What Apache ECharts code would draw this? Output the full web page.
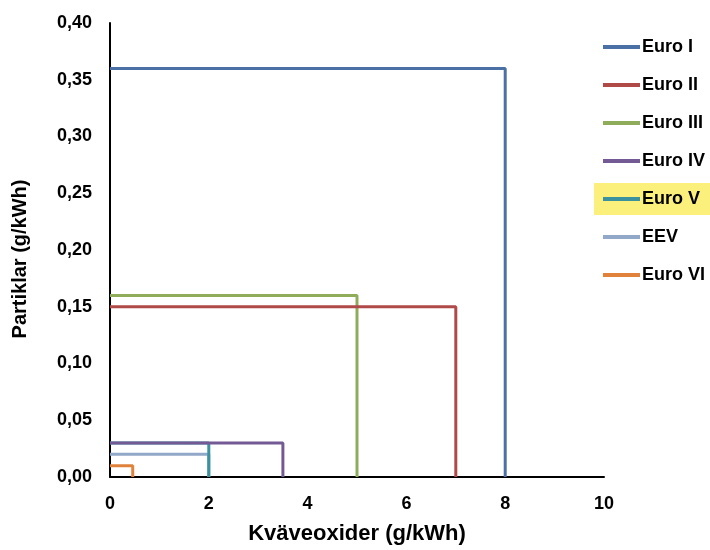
<!DOCTYPE html>
<html>
<head>
<meta charset="utf-8">
<script src="https://cdn.jsdelivr.net/npm/echarts@6/dist/echarts.min.js"></script>
<style>html,body{margin:0;padding:0;background:#fff;}#c{width:710px;height:550px;}</style>
</head>
<body>
<div id="c"></div>
<script>
const names = ['Euro I', 'Euro II', 'Euro III', 'Euro IV', 'Euro V', 'EEV', 'Euro VI'];
const nox = [8, 7, 5, 3.5, 2, 2, 0.46];
const pm = [0.36, 0.15, 0.16, 0.03, 0.03, 0.02, 0.01];
const colors = ['#4a70a6', '#b04a48', '#8fac5a', '#735a94', '#3a929e', '#92a8c9', '#e0823c'];
const xTicks = [0, 2, 4, 6, 8, 10];
const yTicks = [0, 0.05, 0.10, 0.15, 0.20, 0.25, 0.30, 0.35, 0.40];

const FONT = '"Liberation Sans", Arial, sans-serif';
const chart = echarts.init(document.getElementById('c'));
const series = names.map((n, i) => ({
  name: n,
  type: 'line',
  data: [[0, pm[i]], [nox[i], pm[i]], [nox[i], 0]],
  showSymbol: false,
  symbol: 'none',
  lineStyle: { width: 3, color: colors[i] },
  itemStyle: { color: colors[i] },
  z: 10 - i
}));
chart.setOption({
  animation: false,
  backgroundColor: '#fff',
  grid: { left: 110, right: 106, top: 23, bottom: 65 },
  graphic: [{
    type: 'rect', left: 594, top: 183, z: -1,
    shape: { width: 116, height: 32 },
    style: { fill: '#fbf07c' }
  }],
  legend: {
    orient: 'vertical', left: 598, top: 33,
    icon: 'rect', itemWidth: 37, itemHeight: 4, itemGap: 20,
    textStyle: { fontFamily: FONT, fontWeight: 'bold', fontSize: 18, color: '#000', padding: [0, 0, 0, -3] },
    data: names
  },
  xAxis: {
    type: 'value', min: xTicks[0], max: xTicks[xTicks.length - 1], interval: 2,
    name: 'Kväveoxider (g/kWh)', nameLocation: 'middle', nameGap: 46,
    nameTextStyle: { fontFamily: FONT, fontWeight: 'bold', fontSize: 22, color: '#000' },
    axisLine: { show: true, lineStyle: { color: '#000', width: 2 } },
    axisTick: { show: false },
    splitLine: { show: false },
    axisLabel: { fontFamily: FONT, fontWeight: 'bold', fontSize: 18, color: '#000', margin: 18 }
  },
  yAxis: {
    type: 'value', min: yTicks[0], max: yTicks[yTicks.length - 1], interval: 0.05,
    name: 'Partiklar (g/kWh)', nameLocation: 'middle', nameGap: 80,
    nameTextStyle: { fontFamily: FONT, fontWeight: 'bold', fontSize: 20, color: '#000', padding: [0, 18, 0, 0] },
    axisLine: { show: true, lineStyle: { color: '#000', width: 2 } },
    axisTick: { show: false },
    splitLine: { show: false },
    axisLabel: { fontFamily: FONT, fontWeight: 'bold', fontSize: 18, color: '#000', margin: 18,
      formatter: v => v.toFixed(2).replace('.', ',') }
  },
  series: series
});
</script>
</body>
</html>
